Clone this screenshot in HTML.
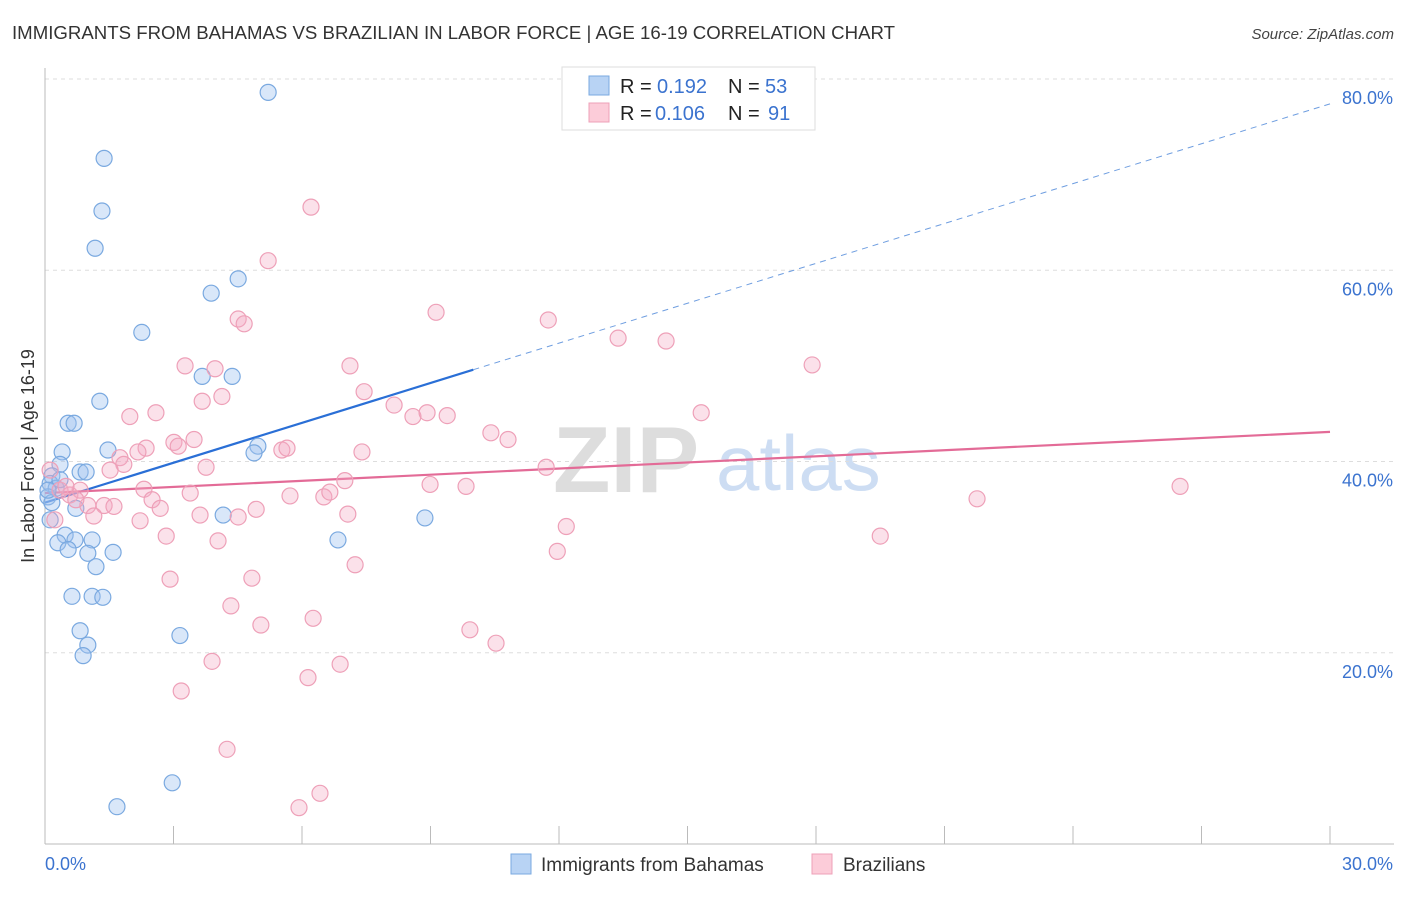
<!DOCTYPE html>
<html><head><meta charset="utf-8"><style>
body{margin:0;background:#fff;font-family:"Liberation Sans",sans-serif}
svg text{font-family:"Liberation Sans",sans-serif}
</style></head><body>
<svg id="chart" width="1406" height="892" viewBox="0 0 1406 892">
<text x="12" y="39" font-size="18.6" fill="#333" textLength="883" lengthAdjust="spacingAndGlyphs">IMMIGRANTS FROM BAHAMAS VS BRAZILIAN IN LABOR FORCE | AGE 16-19 CORRELATION CHART</text>
<text x="1394" y="39" font-size="15" fill="#444" text-anchor="end" font-style="italic">Source: ZipAtlas.com</text>
<text transform="translate(34,456) rotate(-90)" font-size="18" fill="#333" text-anchor="middle">In Labor Force | Age 16-19</text>
<g opacity="0.6">
<text x="553" y="492" font-size="94" fill="#c8c8c8" font-family="Liberation Serif" font-weight="bold">ZIP</text>
<text x="716" y="490" font-size="78" fill="#adc8ec">atlas</text>
</g>
<g id="grid"></g><g id="axes"></g><g id="lines"></g><g id="pts"></g>
<g>
<rect x="562" y="67" width="253" height="63" fill="#fff" stroke="#ddd"/>
<rect x="589" y="76" width="20" height="19" fill="#b8d3f4" stroke="#7aa9e0"/>
<text x="620" y="93" font-size="20" fill="#222">R = </text><text x="657" y="93" font-size="20" fill="#3b73cf">0.192</text>
<text x="728" y="93" font-size="20" fill="#222">N = </text><text x="765" y="93" font-size="20" fill="#3b73cf">53</text>
<rect x="589" y="103" width="20" height="19" fill="#fcccd9" stroke="#eea0b8"/>
<text x="620" y="120" font-size="20" fill="#222">R = </text><text x="655" y="120" font-size="20" fill="#3b73cf">0.106</text>
<text x="728" y="120" font-size="20" fill="#222">N = </text><text x="768" y="120" font-size="20" fill="#3b73cf">91</text>
</g>
<g>
<rect x="511" y="854" width="20" height="20" fill="#b8d3f4" stroke="#7aa9e0"/>
<text x="541" y="871" font-size="19" fill="#333">Immigrants from Bahamas</text>
<rect x="812" y="854" width="20" height="20" fill="#fcccd9" stroke="#eea0b8"/>
<text x="843" y="871" font-size="19" fill="#333">Brazilians</text>
</g>
</svg>
<script>
const xTicks=[0,3,6,9,12,15,18,21,24,27,30];
const yTicks=[20,40,60,80];
const yTickLabels=["20.0%","40.0%","60.0%","80.0%"];
const blueX=[5.21,1.38,1.33,1.17,4.51,3.88,2.26,3.67,4.37,1.28,0.54,0.68,0.40,1.47,4.97,4.88,0.35,0.82,0.96,0.16,0.12,0.26,0.07,0.16,0.72,4.16,8.87,0.12,0.47,1.10,0.70,0.30,0.54,1.00,1.59,1.19,6.84,0.63,1.10,1.35,0.82,1.00,0.89,3.15,2.97,1.68,0.35,0.07];
const blueY=[78.6,71.7,66.2,62.3,59.1,57.6,53.5,48.9,48.9,46.3,44.0,44.0,41.0,41.2,41.6,40.9,39.7,38.9,38.9,38.5,37.7,37.2,36.3,35.7,35.1,34.4,34.1,33.9,32.3,31.8,31.8,31.5,30.8,30.4,30.5,29.0,31.8,25.9,25.9,25.8,22.3,20.8,19.7,21.8,6.4,3.9,38.1,37.0];
const pinkX=[6.21,5.21,4.51,4.65,9.13,11.75,13.38,14.50,17.91,7.12,3.27,3.97,4.13,3.67,7.45,8.15,8.59,8.92,9.39,1.98,2.59,15.32,10.41,10.81,3.01,3.11,3.48,2.36,2.17,1.75,1.84,1.52,5.53,5.65,7.40,3.76,11.70,7.00,8.99,9.83,21.76,26.50,2.31,3.39,5.72,6.51,6.65,2.50,2.69,1.00,1.38,1.61,1.14,4.93,3.62,4.51,7.07,2.22,12.17,2.83,4.04,19.50,11.96,7.24,2.92,4.83,4.34,5.04,6.26,9.92,10.53,3.90,6.89,6.14,3.18,4.25,6.42,5.93,0.35,0.58,0.12,0.23,0.82,0.49,0.72];
const pinkY=[66.6,61.0,54.9,54.4,55.6,54.8,52.9,52.6,50.1,50.0,50.0,49.7,46.8,46.3,47.3,45.9,44.7,45.1,44.8,44.7,45.1,45.1,43.0,42.3,42.0,41.6,42.3,41.4,41.0,40.4,39.7,39.1,41.2,41.4,41.0,39.4,39.4,38.0,37.6,37.4,36.1,37.4,37.1,36.7,36.4,36.3,36.8,36.0,35.1,35.4,35.4,35.3,34.3,35.0,34.4,34.2,34.5,33.8,33.2,32.2,31.7,32.2,30.6,29.2,27.7,27.8,24.9,22.9,23.6,22.4,21.0,19.1,18.8,17.4,16.0,9.9,5.3,3.8,37.0,36.5,39.1,33.9,37.0,37.4,36.0];
const blueLine=[0,35.7,10,49.6,30,77.4];
const pinkLine=[0,36.7,30,43.1];
const X0=45,X1=1330,Y0=844,Y80=79;
const sx=v=>X0+(X1-X0)*v/30;
const sy=v=>Y0-(Y0-Y80)*v/80;
const NS="http://www.w3.org/2000/svg";
function mk(tag,attrs,parent){const e=document.createElementNS(NS,tag);for(const k in attrs)e.setAttribute(k,attrs[k]);document.getElementById(parent).appendChild(e);return e;}
yTicks.forEach((t,i)=>{
 const g=mk('line',{x1:X0,x2:1394,y1:sy(t),y2:sy(t),stroke:'#ddd','stroke-dasharray':'4,4'},'grid');
 
 
 const l=mk('text',{x:1393,y:sy(t)+25,'font-size':18,fill:'#3b73cf','text-anchor':'end'},'axes');
 l.textContent=yTickLabels[i];
 
 
});
const ya=mk('line',{x1:X0,x2:X0,y1:68,y2:Y0,stroke:'#bbb'},'axes');


const xa=mk('line',{x1:X0,x2:1394,y1:Y0,y2:Y0,stroke:'#bbb'},'axes');


xTicks.forEach(t=>{
 const k=mk('line',{x1:sx(t),x2:sx(t),y1:Y0,y2:Y0-18,stroke:'#bbb'},'axes');
 
 
});
const xl0=mk('text',{x:45,y:870,'font-size':18,fill:'#3b73cf'},'axes');xl0.textContent='0.0%';


const xl1=mk('text',{x:1393,y:870,'font-size':18,fill:'#3b73cf','text-anchor':'end'},'axes');xl1.textContent='30.0%';


blueX.forEach((v,i)=>{
 const c=mk('circle',{cx:sx(v),cy:sy(blueY[i]),r:8,fill:'rgba(160,196,240,0.4)',stroke:'#7aa9e0','stroke-width':1.2},'pts');
 
 
});
pinkX.forEach((v,i)=>{
 const c=mk('circle',{cx:sx(v),cy:sy(pinkY[i]),r:8,fill:'rgba(244,170,195,0.35)',stroke:'#eea0b8','stroke-width':1.2},'pts');
 
 
});
const bs=mk('line',{x1:sx(blueLine[0]),y1:sy(blueLine[1]),x2:sx(blueLine[2]),y2:sy(blueLine[3]),stroke:'#2a6fd6','stroke-width':2.2},'lines');


const bd=mk('line',{x1:sx(blueLine[2]),y1:sy(blueLine[3]),x2:sx(blueLine[4]),y2:sy(blueLine[5]),stroke:'#6f9ee0','stroke-width':1,'stroke-dasharray':'6,5'},'lines');


const pl=mk('line',{x1:sx(pinkLine[0]),y1:sy(pinkLine[1]),x2:sx(pinkLine[2]),y2:sy(pinkLine[3]),stroke:'#e36b97','stroke-width':2.2},'lines');


</script>
</body></html>
